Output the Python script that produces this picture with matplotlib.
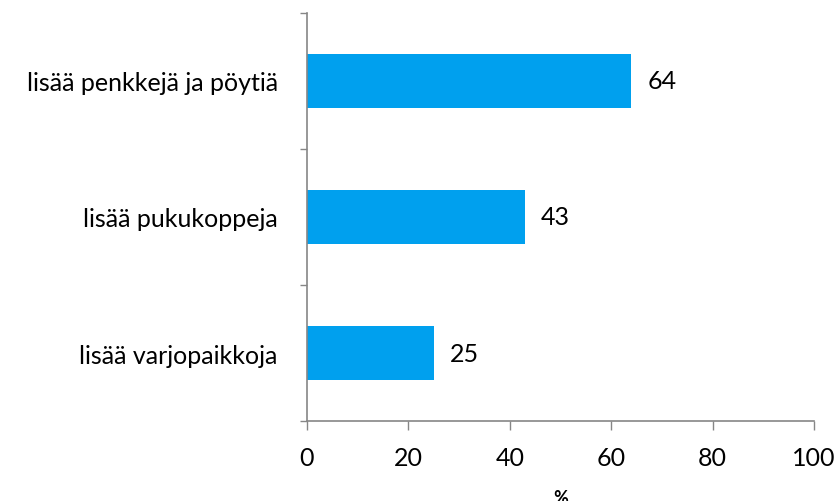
import matplotlib
matplotlib.use("Agg")
import matplotlib.pyplot as plt
import numpy as np

categories = ["lisää penkkejä ja pöytiä", "lisää pukukoppeja", "lisää varjopaikkoja"]
values = [64, 43, 25]
xticks = [0, 20, 40, 60, 80, 100]
xlabel = "%"

plt.rcParams['font.family'] = ['Lato', 'DejaVu Sans']

fig = plt.figure(figsize=(8.4, 5.02), dpi=100)
L, R, T, B = 307, 814, 14, 422
ax = fig.add_axes([L/840, 1-B/502, (R-L)/840, (B-T)/502])

n = len(categories)
ypos = np.arange(n)[::-1]  # first category at top
ax.barh(ypos, values, height=0.39, color="#00A0EE", zorder=2)

for y, v in zip(ypos, values):
    ax.text(v + 3.2, y, f"{v}", va="center", ha="left", fontsize=18, color="black")

ax.set_xlim(0, 100)
ax.set_ylim(-0.5, n - 0.5)
ax.set_xticks(xticks)
ax.set_xticklabels([str(t) for t in xticks], fontsize=18)
ax.set_yticks(ypos)
ax.set_yticklabels(categories, fontsize=18)
ax.tick_params(axis='y', which='major', length=0, pad=21)
ax.set_yticks(np.arange(-0.5, n, 1.0), minor=True)
ax.tick_params(axis='y', which='minor', length=5, width=1, color="#868686", direction='out')
ax.tick_params(axis='x', which='major', length=6.3, width=1, color="#868686", direction='out', pad=12)

for s in ["top", "right"]:
    ax.spines[s].set_visible(False)
for s in ["left", "bottom"]:
    ax.spines[s].set_color("#868686")
    ax.spines[s].set_linewidth(1.2)

ax.set_xlabel(xlabel, fontsize=13, fontweight="bold", va="top")
ax.xaxis.set_label_coords(0.5, -(490 - B) / (B - T))

fig.savefig("out.png", dpi=100)
